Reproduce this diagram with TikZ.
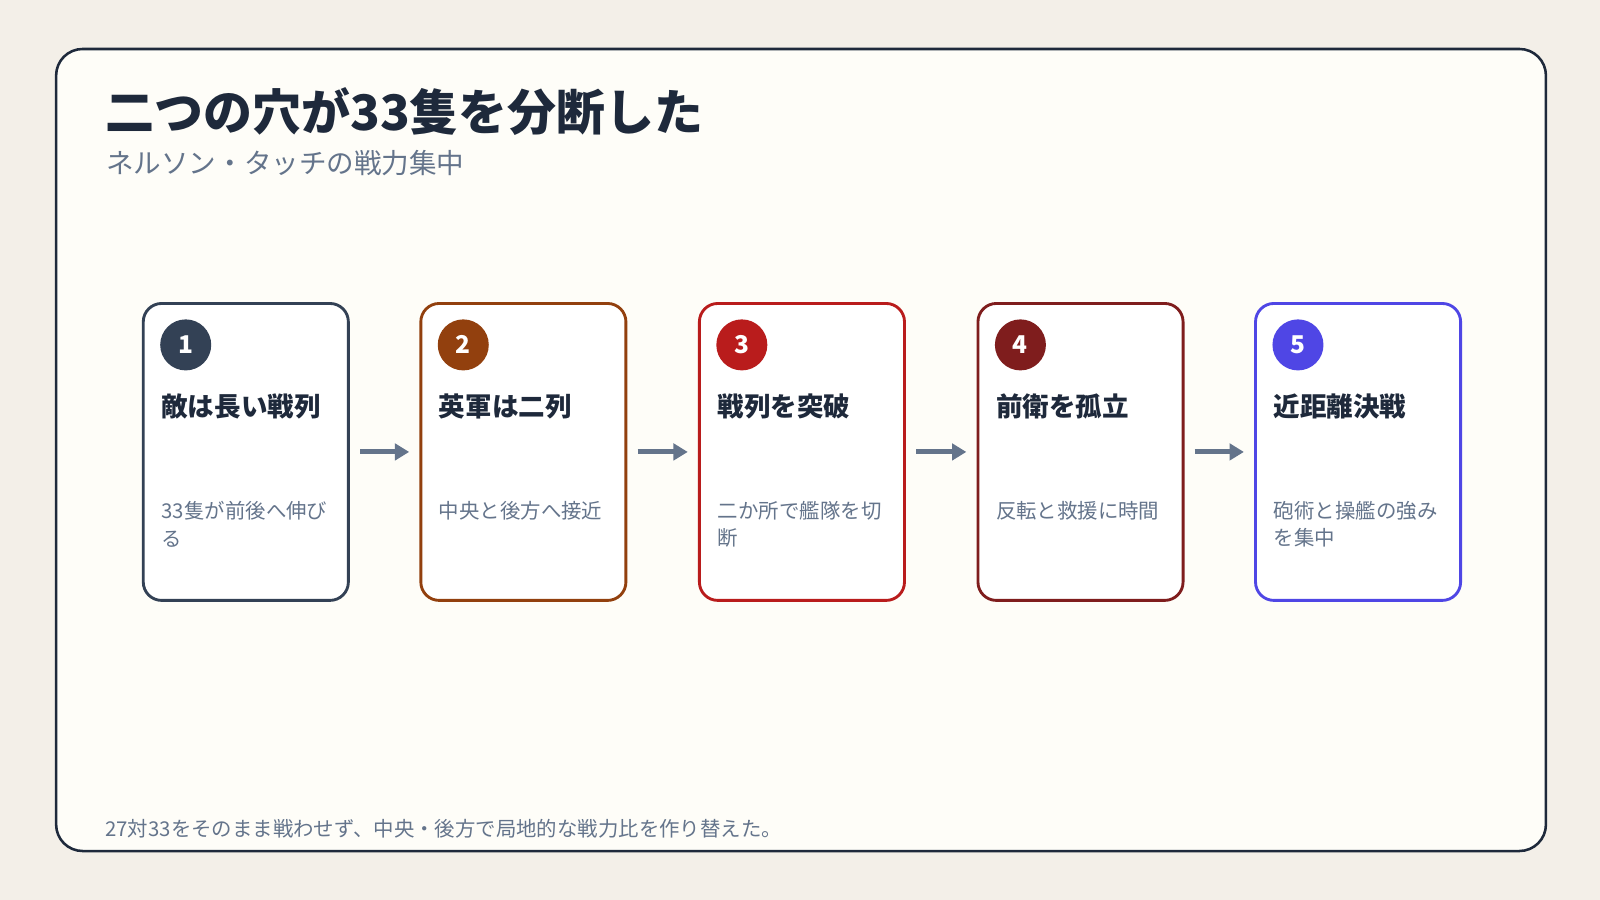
\documentclass[tikz,border=0pt]{standalone}
\usepackage{fontspec}
\setmainfont{Noto Sans CJK JP}
\XeTeXlinebreaklocale "ja"
\XeTeXlinebreakskip=0pt plus 1pt
\usetikzlibrary{arrows.meta}
\definecolor{bg}{HTML}{F3EFE8}
\definecolor{panel}{HTML}{FEFDF8}
\definecolor{ink}{HTML}{1E293B}
\definecolor{muted}{HTML}{64748B}
\definecolor{cA}{HTML}{334155}
\definecolor{cB}{HTML}{92400E}
\definecolor{cC}{HTML}{B91C1C}
\definecolor{cD}{HTML}{7F1D1D}
\definecolor{cE}{HTML}{4F46E5}
\tikzset{
 card/.style={draw=#1,line width=2.8pt,fill=white,rounded corners=18pt,minimum width=201pt,minimum height=291pt,inner sep=0pt},
 badge/.style={circle,fill=#1,minimum size=50pt,inner sep=0pt,text=white,font=\fontsize{24}{24}\selectfont\bfseries},
 ctitle/.style={anchor=west,text=ink,font=\fontsize{26}{30}\selectfont\bfseries,inner sep=0pt},
 cdesc/.style={anchor=north west,text=muted,font=\fontsize{20}{27}\selectfont,text width=165pt,align=left,inner sep=0pt},
 flow/.style={draw=muted,line width=5pt,-{Triangle[length=14pt,width=16pt]}}
}
\begin{document}
\begin{tikzpicture}[x=1pt,y=-1pt]
\fill[bg] (0,0) rectangle (1568,882);
\useasboundingbox (0,0) rectangle (1568,882);
\draw[ink,line width=2.5pt,fill=panel,rounded corners=26pt] (55,48) rectangle (1515,834);
\node[anchor=base west,inner sep=0pt,text=ink,font=\fontsize{48}{48}\selectfont\bfseries] (title) at (103,128) {二つの穴が33隻を分断した};
\node[anchor=base west,inner sep=0pt,text=muted,font=\fontsize{27}{27}\selectfont] (sub) at (104,170) {ネルソン・タッチの戦力集中};
\foreach \i/\x/\c/\t/\d in {1/139/cA/敵は長い戦列/33隻が前後へ伸びる,2/411/cB/英軍は二列/中央と後方へ接近,3/684/cC/戦列を突破/二か所で艦隊を切断,4/957/cD/前衛を孤立/反転と救援に時間,5/1229/cE/近距離決戦/砲術と操艦の強みを集中}{
  \node[card=\c,anchor=north west] (k\i) at (\x,296) {};
  \node[badge=\c] (b\i) at (\x+43,338) {\i};
  \node[ctitle] (t\i) at (\x+19,398) {\t};
  \node[cdesc] (d\i) at (\x+19,491) {\d};
}
\foreach \a/\b in {1/2,2/3,3/4,4/5}{
  \draw[flow] ([xshift=10pt]k\a.east) -- ([xshift=-10pt]k\b.west);
}
\node[anchor=base west,inner sep=0pt,text=muted,font=\fontsize{20}{20}\selectfont] (foot) at (103,820) {27対33をそのまま戦わせず、中央・後方で局地的な戦力比を作り替えた。};
\end{tikzpicture}
\end{document}
